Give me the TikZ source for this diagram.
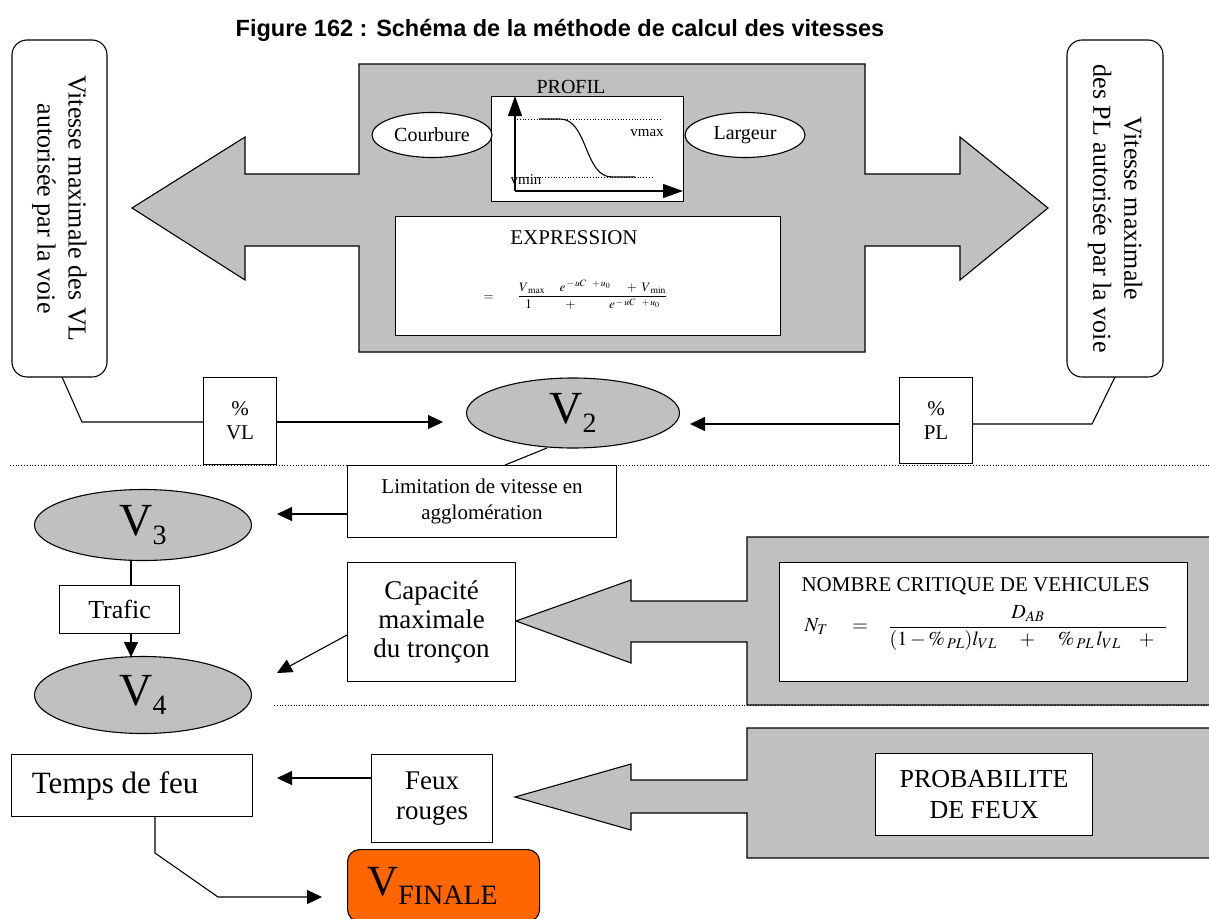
\documentclass[tikz,border=0pt]{standalone}
\usepackage{mathptmx}
\usepackage{fontspec}
\setmainfont{Liberation Serif}
\newfontfamily\titlefont{Liberation Sans}
\usetikzlibrary{shapes.geometric,arrows.meta,positioning,calc}
\definecolor{greyfill}{HTML}{C0C0C0}
\definecolor{finalorange}{HTML}{FF6600}
\newcommand{\fsz}[2]{\fontsize{#1}{#2}\selectfont}
\newcommand{\vname}[1]{{\fsz{46}{46}V}{\fsz{28}{28}\raisebox{-9pt}{#1}}}

\tikzset{
  box/.style={draw,fill=white,line width=1.1pt,align=center,inner sep=0pt,anchor=north west},
  vnode/.style={ellipse,draw,fill=greyfill,line width=1.1pt,inner sep=0pt},
  oval/.style={ellipse,draw,fill=white,line width=1.1pt,inner sep=0pt,font=\fsz{20}{24}},
  bigarrow/.style={draw,fill=greyfill,line width=1.1pt,line join=miter},
  link/.style={line width=1.1pt,-{Triangle[length=15pt,width=14pt]}},
  wire/.style={line width=1.1pt},
  sep/.style={dotted,line width=0.8pt},
}

\begin{document}
\begin{tikzpicture}[x=1pt,y=-1pt]
\useasboundingbox (0,0) rectangle (1209,918);

% title
\node[font=\titlefont\bfseries\fsz{23.5}{26}] (title) at (560,30) {Figure 162 : Schéma de la méthode de calcul des vitesses};

% separators
\draw[sep] (10,465) -- (1209,465);
\draw[sep] (274,705) -- (1209,705);

% upper double arrow
\draw[bigarrow] (132,208) -- (245,137) -- (245,174) -- (359,174) -- (359,64) -- (865,64)
  -- (865,174) -- (960,174) -- (960,137) -- (1048,208) -- (960,280) -- (960,246)
  -- (865,246) -- (865,352) -- (359,352) -- (359,246) -- (245,246) -- (245,280) -- cycle;

% profile
\node[font=\fsz{20}{24}] (profil) at (571,87) {PROFIL};
\node[box,minimum width=192pt,minimum height=105pt] (graph) at (491,96) {};
\draw[sep] (517,119) -- (660,119);
\draw[sep] (520,177) -- (653,177);
\draw[line width=1.1pt] (539,119) -- (560,119) .. controls (588,119) and (584,177) .. (612,177) -- (635,177);
\draw[line width=1.1pt,-{Triangle[length=20pt,width=14pt]}] (515,191) -- (515,96);
\draw[line width=1.1pt,-{Triangle[length=20pt,width=14pt]}] (515,191) -- (683,191);
\node[font=\fsz{15}{18}] (vmax) at (647,133) {vmax};
\node[font=\fsz{15}{18}] (vmin) at (526,180) {vmin};
\node[oval,minimum width=120pt,minimum height=45pt] (courbure) at (432,135) {Courbure};
\node[oval,minimum width=120pt,minimum height=45pt] (largeur) at (745,135) {Largeur};

% expression
\node[box,minimum width=385pt,minimum height=119pt] (expr) at (395,216) {};
\node[font=\fsz{21}{25}] (exprtitle) at (574,238) {EXPRESSION};
\node[font=\fsz{13}{15},anchor=west] (formula) at (480,295)
  {$=\quad\;\;\;\displaystyle\frac{V_{\;\mathrm{max}}\;\;\;\;\; e^{\,-\,uC\;\;\;+\,u_0}\;\;\;\;\;+\;V_{\;\mathrm{min}}}{1\qquad\;\;+\qquad\;\; e^{\,-\,uC\;\;\;+\,u_0}}$};

% speed limits
\node[draw,line width=1.1pt,rounded corners=15pt,fill=white,rotate=-90,align=center,
  minimum width=337pt,minimum height=95pt,inner sep=0pt,font=\fsz{26}{31}] (vlmax) at (59.5,208.5)
  {Vitesse maximale des VL\\autorisée par la voie};
\node[draw,line width=1.1pt,rounded corners=15pt,fill=white,rotate=-90,align=center,
  minimum width=337pt,minimum height=96pt,inner sep=0pt,font=\fsz{26}{31}] (plmax) at (1115,208.5)
  {Vitesse maximale\\des PL autorisée par la voie};

\node[box,minimum width=73pt,minimum height=87pt,font=\fsz{21}{24}] (pvl) at (203,377) {\%\\VL};
\node[box,minimum width=73pt,minimum height=86pt,font=\fsz{21}{24}] (ppl) at (899,377) {\%\\PL};
\node[vnode,minimum width=213pt,minimum height=70pt] (v2) at (573,413) {\vname{2}};

\draw[wire] (62,377) -- (82,422) -- (pvl.west |- 0,422);
\draw[link] (pvl.east |- 0,422) -- (443,422);
\draw[wire] (1115,377) -- (1092,424) -- (ppl.east |- 0,424);
\draw[link] (ppl.west |- 0,424) -- (690,424);

% urban limit
\node[box,minimum width=269pt,minimum height=72pt,font=\fsz{21}{26}] (urban) at (347,465)
  {Limitation de vitesse en\\agglomération};
\draw[wire] (547,448) -- (505,465);
\node[vnode,minimum width=217pt,minimum height=71pt] (v3) at (143,525) {\vname{3}};
\draw[link] (urban.west |- 0,514) -- (277,514);

% traffic
\node[box,minimum width=120pt,minimum height=48pt,font=\fsz{26}{30}] (trafic) at (59,585) {Trafic};
\node[vnode,minimum width=217pt,minimum height=77pt] (v4) at (143,695) {\vname{4}};
\draw[wire] (131,561) -- (131,585);
\draw[link] (131,633) -- (131,657);

% capacity
\draw[bigarrow] (516,621) -- (631,580) -- (631,601) -- (747,601) -- (747,537) -- (1215,537)
  -- (1215,705) -- (747,705) -- (747,642) -- (631,642) -- (631,663) -- cycle;
\node[box,minimum width=408pt,minimum height=119pt] (ntbox) at (779,562) {};
\node[font=\fsz{21}{25},anchor=west] (nttitle) at (798,586) {NOMBRE CRITIQUE DE VEHICULES};
\node[font=\fsz{20}{24},anchor=west] (ntformula) at (801,628)
  {$N_{T}\hspace{20pt}=\hspace{16pt}\displaystyle\frac{D_{AB}}{(1-\%_{\,PL})l_{VL}\hspace{20pt}+\hspace{20pt}\%_{\,PL}\,l_{VL}\hspace{18pt}+\hspace{12pt}}$};
\node[box,minimum width=168pt,minimum height=119pt,font=\fsz{27}{29}] (capa) at (347,562)
  {Capacité\\maximale\\du tronçon};
\draw[link] (capa.west |- 0,635) -- (277,673);

% traffic lights
\draw[bigarrow] (515,797) -- (631,764) -- (631,780) -- (747,780) -- (747,728) -- (1215,728)
  -- (1215,858) -- (747,858) -- (747,813) -- (631,813) -- (631,830) -- cycle;
\node[box,minimum width=217pt,minimum height=82pt,font=\fsz{26}{31}] (proba) at (875,753)
  {PROBABILITE\\DE FEUX};
\node[box,minimum width=121pt,minimum height=88pt,font=\fsz{27}{30}] (feux) at (371,754)
  {Feux\\rouges};
\node[box,minimum width=241pt,minimum height=62pt,font=\fsz{31}{36}] (temps) at (11,754)
  {Temps de feu\kern34pt};
\draw[link] (feux.west |- 0,778) -- (277,778);

% final speed
\node[draw,line width=1.1pt,fill=finalorange,rounded corners=12pt,anchor=north west,
  minimum width=192pt,minimum height=72pt,inner sep=0pt] (vfinal) at (347,849)
  {{\fsz{43}{43}V}{\fsz{28}{28}\raisebox{-9pt}{FINALE}}\kern22pt};
\draw[link] (155,816) -- (155,853) -- (218,897) -- (322,897);
\end{tikzpicture}
\end{document}
